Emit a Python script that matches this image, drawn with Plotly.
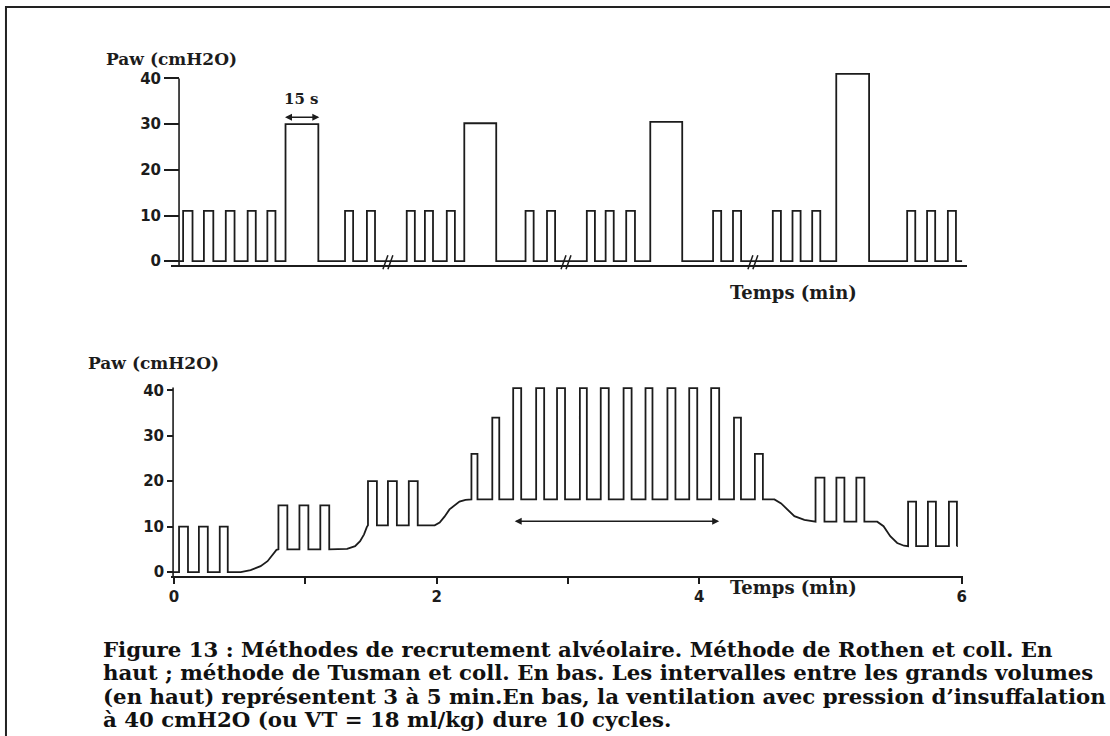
import plotly.graph_objects as go

W, H = 1110, 736

# ---------------- Data ----------------
# Top panel (Rothen et al.): pressure trace, time in seconds (sweep with 3 time breaks)
top_onsets = [5.5, 15, 25, 35, 44, 52.3, 79.5, 89.5,
              107.7, 116, 126, 134, 162, 171.8,
              190, 198.6, 208, 219, 247.7, 256.8,
              275, 284, 293, 304, 336.4, 345.5, 355]
top_widths = [4.3, 4.3, 4.0, 3.7, 3.7, 15, 3.7, 3.7,
              3.7, 3.7, 3.7, 14.6, 3.7, 3.7,
              3.7, 3.7, 4.0, 14.6, 3.7, 3.7,
              3.7, 3.7, 3.7, 15, 3.7, 3.7, 3.7]
top_peaks = [11, 11, 11, 11, 11, 30, 11, 11,
             11, 11, 11, 30.2, 11, 11,
             11, 11, 11, 30.5, 11, 11,
             11, 11, 11, 41, 11, 11, 11]
top_t_start, top_t_end = 0, 361.5
top_breaks = [100, 181.4, 266.8]
top_yticks = [0, 10, 20, 30, 40]

# Bottom panel (Tusman et al.): pressure trace, time in minutes
bot_onsets = [0.038, 0.189, 0.348,
              0.795, 0.955, 1.114,
              1.477, 1.629, 1.788,
              2.265, 2.424, 2.583, 2.758, 2.917, 3.091, 3.250, 3.424, 3.591,
              3.758, 3.924, 4.091, 4.265, 4.424,
              4.886, 5.045, 5.197,
              5.591, 5.742, 5.902]
bot_widths = [0.068, 0.068, 0.061,
              0.068, 0.068, 0.068,
              0.068, 0.068, 0.068,
              0.046, 0.053, 0.061, 0.061, 0.061, 0.053, 0.061, 0.061, 0.053,
              0.061, 0.061, 0.061, 0.053, 0.061,
              0.068, 0.061, 0.061,
              0.061, 0.061, 0.061]
bot_peaks = [10, 10, 10,
             14.7, 14.7, 14.7,
             20, 20, 20,
             26, 34, 40.5, 40.5, 40.5, 40.5, 40.5, 40.5, 40.5,
             40.5, 40.5, 40.5, 34, 26,
             20.8, 20.8, 20.8,
             15.5, 15.5, 15.5]
bot_peep = [0, 0, 0,
            5, 5, 5,
            10.3, 10.3, 10.3,
            16, 16, 16, 16, 16, 16, 16, 16, 16,
            16, 16, 16, 16, 16,
            11.1, 11.1, 11.1,
            5.7, 5.7, 5.7]
# PEEP transitions (read along the curved baseline between groups)
bot_ramp_t = [0.508, 0.583, 0.659, 0.712, 0.750, 0.780,
              1.318, 1.379, 1.417, 1.447, 1.468,
              1.985, 2.023, 2.060, 2.098, 2.174, 2.220,
              4.573, 4.624, 4.674, 4.725, 4.801, 4.850,
              5.356, 5.404, 5.455, 5.508, 5.560]
bot_ramp_p = [0, 0.44, 1.3, 2.4, 3.9, 4.9,
              5.1, 5.7, 6.8, 8.3, 9.9,
              10.3, 10.9, 12.2, 13.8, 15.5, 15.9,
              16, 15.1, 13.7, 12.3, 11.5, 11.2,
              11.1, 10.1, 7.9, 6.4, 5.8]
bot_t_start, bot_t_end = -0.023, 5.962
bot_xticks = [0, 1, 2, 3, 4, 5, 6]
bot_xticktext = ["0", "", "2", "", "4", "", "6"]
bot_yticks = [0, 10, 20, 30, 40]

caption_lines = [
    "Figure 13 : Méthodes de recrutement alvéolaire. Méthode de Rothen et coll. En",
    "haut ; méthode de Tusman et coll. En bas. Les intervalles entre les grands volumes",
    "(en haut) représentent 3 à 5 min.En bas, la ventilation avec pression d’insuffalation",
    "à 40 cmH2O (ou VT = 18 ml/kg) dure 10 cycles.",
]


def build_wave(onsets, widths, peaks, peeps, ramp_t, ramp_p, t0, t_end):
    xs, ys = [t0], [peeps[0]]
    prev = t0
    ramp = list(zip(ramp_t, ramp_p))
    for on, w, pk, pe in zip(onsets, widths, peaks, peeps):
        for rt, rp in ramp:
            if prev < rt < on:
                xs.append(rt)
                ys.append(rp)
        xs += [on, on, on + w, on + w]
        ys += [pe, pk, pk, pe]
        prev = on + w
    for rt, rp in ramp:
        if prev < rt < t_end:
            xs.append(rt)
            ys.append(rp)
    xs.append(t_end)
    ys.append(peeps[-1])
    return xs, ys


top_x, top_y = build_wave(top_onsets, top_widths, top_peaks, [0] * len(top_onsets),
                          [], [], top_t_start, top_t_end)
bot_x, bot_y = build_wave(bot_onsets, bot_widths, bot_peaks, bot_peep,
                          bot_ramp_t, bot_ramp_p, bot_t_start, bot_t_end)


def px(v):
    return v / W


def py(v):
    return 1 - v / H


INK = "#1c1c1c"
tickfont = dict(family="DejaVu Sans", size=15, color=INK, weight="bold")

fig = go.Figure()
fig.add_trace(go.Scatter(x=top_x, y=top_y, mode="lines", xaxis="x", yaxis="y",
                         line=dict(color=INK, width=1.8), hoverinfo="skip", showlegend=False))
fig.add_trace(go.Scatter(x=bot_x, y=bot_y, mode="lines", xaxis="x2", yaxis="y2",
                         line=dict(color=INK, width=1.8), hoverinfo="skip", showlegend=False))

# top axes: 2.2 px per second, 4.6 px per cmH2O
top_px_per_s = 2.2
fig.update_layout(
    width=W, height=H,
    margin=dict(l=0, r=0, t=0, b=0, pad=0),
    paper_bgcolor="white", plot_bgcolor="rgba(0,0,0,0)",
    showlegend=False,
    xaxis=dict(domain=[px(170), px(970)], range=[0, 800 / top_px_per_s], anchor="y",
               showline=True, linecolor=INK, linewidth=1.6, showticklabels=False,
               ticks="", showgrid=False, zeroline=False, fixedrange=True),
    yaxis=dict(domain=[py(267), py(69.8)], range=[-0.87, 42], anchor="free", position=px(178),
               showline=False, ticks="outside", ticklen=15, tickwidth=1.5, tickcolor=INK,
               tickvals=top_yticks, tickfont=tickfont, showgrid=False, zeroline=False),
    xaxis2=dict(domain=[px(170), px(966)], range=[-3 / 132, 793 / 132], anchor="y2",
                showline=True, linecolor=INK, linewidth=1.6, ticks="outside", ticklen=6,
                tickwidth=1.6, tickcolor=INK, tickvals=bot_xticks, ticktext=bot_xticktext,
                tickfont=tickfont, showgrid=False, zeroline=False),
    yaxis2=dict(domain=[py(580), py(383.85)], range=[-0.874, 42], anchor="free", position=px(172),
                showline=False, ticks="outside", ticklen=6, tickwidth=1.5, tickcolor=INK,
                tickvals=bot_yticks, tickfont=tickfont, showgrid=False, zeroline=False),
)

shapes = []
# y axis lines (0..40)
shapes.append(dict(type="line", xref="paper", yref="y", x0=px(178), x1=px(178), y0=-0.87, y1=40,
                   line=dict(color=INK, width=1.6)))
shapes.append(dict(type="line", xref="paper", yref="y2", x0=px(172), x1=px(172), y0=-0.874, y1=40.6,
                   line=dict(color=INK, width=1.6)))
# time-break marks on top panel
s = 1 / top_px_per_s
for b in top_breaks:
    for off in (-7, -2):
        shapes.append(dict(type="line", xref="x", yref="paper",
                           x0=b + off * s, x1=b + (off + 5) * s, y0=py(271), y1=py(257),
                           line=dict(color=INK, width=1.5)))
# page border (top and left edges visible)
shapes.append(dict(type="rect", xref="paper", yref="paper", x0=px(4), x1=1.05, y0=-0.05, y1=py(7),
                   line=dict(color="#222", width=2), fillcolor="rgba(0,0,0,0)"))
fig.update_layout(shapes=shapes)

serif = "DejaVu Serif"
ann = []
ann.append(dict(text="<b>Paw (cmH2O)</b>", xref="paper", yref="paper", x=px(103), y=py(59),
                xanchor="left", yanchor="middle", showarrow=False,
                font=dict(family=serif, size=17, color=INK)))
ann.append(dict(text="<b>Paw (cmH2O)</b>", xref="paper", yref="paper", x=px(220), y=py(365),
                xanchor="right", yanchor="middle", showarrow=False,
                font=dict(family=serif, size=17, color=INK)))
ann.append(dict(text="<b>Temps (min)</b>", xref="paper", yref="paper", x=px(796), y=py(295),
                xanchor="center", yanchor="middle", showarrow=False,
                font=dict(family=serif, size=18, color=INK)))
ann.append(dict(text="<b>Temps (min)</b>", xref="paper", yref="paper", x=px(796), y=py(592),
                xanchor="center", yanchor="middle", showarrow=False,
                font=dict(family=serif, size=18, color=INK)))
# "15 s" marker over first sustained inflation
big0 = top_peaks.index(max(top_peaks[:8]))
b_on, b_off = top_onsets[big0], top_onsets[big0] + top_widths[big0]
ann.append(dict(text="<b>15 s</b>", xref="x", yref="y", x=(b_on + b_off) / 2, y=35.4,
                xanchor="center", yanchor="middle", showarrow=False,
                font=dict(family=serif, size=15, color=INK)))
ann.append(dict(text="", xref="x", yref="y", axref="x", ayref="y",
                x=b_off + s, y=31.5, ax=b_on - 2 * s, ay=31.5,
                showarrow=True, arrowhead=2, arrowside="end+start", arrowsize=1,
                arrowwidth=1.4, arrowcolor=INK))
# 10-cycle arrow on bottom panel
c_on = bot_onsets[bot_peaks.index(40.5)]
last40 = len(bot_peaks) - 1 - bot_peaks[::-1].index(40.5)
c_off = bot_onsets[last40] + bot_widths[last40]
ann.append(dict(text="", xref="x2", yref="y2", axref="x2", ayref="y2",
                x=c_off, y=11.2, ax=c_on, ay=11.2,
                showarrow=True, arrowhead=2, arrowside="end+start", arrowsize=1,
                arrowwidth=1.4, arrowcolor=INK))
# caption
for i, line in enumerate(caption_lines):
    ann.append(dict(text="<b>" + line + "</b>", xref="paper", yref="paper",
                    x=px(100), y=py(654 + 23.6 * i), xanchor="left", yanchor="middle",
                    showarrow=False, font=dict(family=serif, size=21.3, color="#111")))
fig.update_layout(annotations=ann)

fig.write_html("out.html")
